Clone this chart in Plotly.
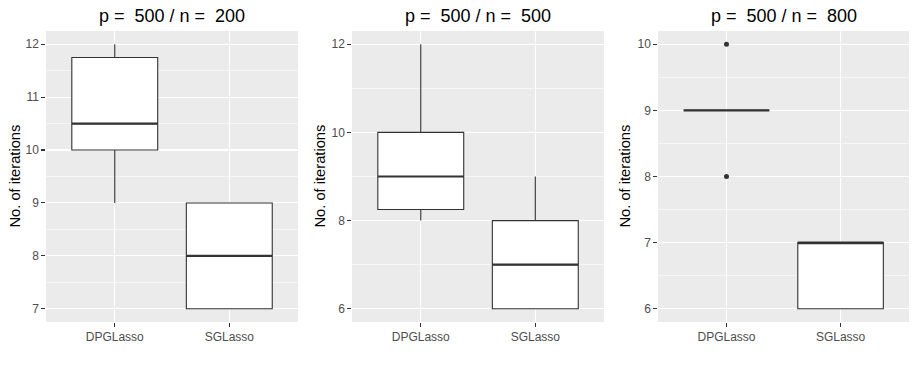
import plotly.graph_objects as go

# data: precomputed boxplot stats
categories = ["DPGLasso", "SGLasso"]
panel_titles = ["p =  500 / n =  200", "p =  500 / n =  500", "p =  500 / n =  800"]

q1 = [[10, 7], [8.25, 6], [9, 6]]
median = [[10.5, 8], [9, 7], [9, 7]]
q3 = [[11.75, 9], [10, 8], [9, 7]]
lower = [[9, 7], [8, 6], [9, 6]]
upper = [[12, 9], [12, 9], [9, 7]]
outliers = [[[], []], [[], []], [[8, 10], []]]

y_ranges = [[6.75, 12.25], [5.7, 12.3], [5.8, 10.2]]
y_ticks = [[7, 8, 9, 10, 11, 12], [6, 8, 10, 12], [6, 7, 8, 9, 10]]
y_minor = [0.5, 1, 0.5]

x_domains = [[0.0502, 0.325], [0.3839, 0.6587], [0.7176, 0.9913]]
y_domain = [0.125, 0.9158]

DARK = "#333333"
BOX_W = 0.75

fig = go.Figure()
pos = [1, 2]

for i in range(3):
    xa = "x" if i == 0 else f"x{i + 1}"
    ya = "y" if i == 0 else f"y{i + 1}"
    fig.add_trace(
        go.Box(
            x=pos,
            q1=q1[i],
            median=median[i],
            q3=q3[i],
            lowerfence=lower[i],
            upperfence=upper[i],
            width=BOX_W,
            whiskerwidth=0,
            fillcolor="white",
            line=dict(color=DARK, width=1.1),
            boxpoints=False,
            hoverinfo="skip",
            xaxis=xa,
            yaxis=ya,
        )
    )
    # thicker median line (ggplot fatten)
    mx, my = [], []
    for p, m in zip(pos, median[i]):
        mx += [p - BOX_W / 2, p + BOX_W / 2, None]
        my += [m, m, None]
    fig.add_trace(
        go.Scatter(
            x=mx, y=my, mode="lines", line=dict(color=DARK, width=2.2),
            hoverinfo="skip", xaxis=xa, yaxis=ya,
        )
    )
    ox, oy = [], []
    for p, outs in zip(pos, outliers[i]):
        ox += [p] * len(outs)
        oy += outs
    if oy:
        fig.add_trace(
            go.Scatter(
                x=ox, y=oy, mode="markers", marker=dict(color=DARK, size=5),
                hoverinfo="skip", xaxis=xa, yaxis=ya,
            )
        )

    axis_common = dict(
        showgrid=True, gridcolor="white", gridwidth=1.1, zeroline=False,
        ticks="outside", ticklen=3.7, tickwidth=1.1, tickcolor=DARK,
        tickfont=dict(family="Liberation Sans, Arial", size=12, color="#4D4D4D"),
        showline=False, fixedrange=True, automargin=False,
    )
    fig.layout[f"xaxis{'' if i == 0 else i + 1}"] = dict(
        axis_common,
        domain=x_domains[i], anchor=ya, range=[0.4, 2.6],
        tickmode="array", tickvals=pos, ticktext=categories,
    )
    fig.layout[f"yaxis{'' if i == 0 else i + 1}"] = dict(
        axis_common,
        domain=y_domain, anchor=xa, range=y_ranges[i],
        tickmode="array", tickvals=y_ticks[i],
        minor=dict(dtick=y_minor[i], tick0=0, showgrid=True,
                   gridcolor="white", gridwidth=0.55, ticks=""),
    )
    fig.add_annotation(
        text=panel_titles[i].replace(" ", "\u00a0"),
        x=sum(x_domains[i]) / 2, y=1 - 16 / 368, xref="paper", yref="paper",
        xanchor="center", yanchor="middle", showarrow=False,
        font=dict(family="Liberation Sans, Arial", size=18, color="black"),
    )
    fig.add_annotation(
        text="No. of iterations", textangle=-90,
        x=[15, 320, 625][i] / 917, y=sum(y_domain) / 2, xref="paper", yref="paper",
        xanchor="center", yanchor="middle", showarrow=False,
        font=dict(family="Liberation Sans, Arial", size=14.7, color="black"),
    )

fig.update_layout(
    width=917, height=368,
    margin=dict(l=0, r=0, t=0, b=0),
    paper_bgcolor="white", plot_bgcolor="#EBEBEB",
    showlegend=False,
)

fig.write_html(
    "out.html",
    config={"displayModeBar": False, "staticPlot": True},
    post_script="document.body.style.margin = '0';",
)
